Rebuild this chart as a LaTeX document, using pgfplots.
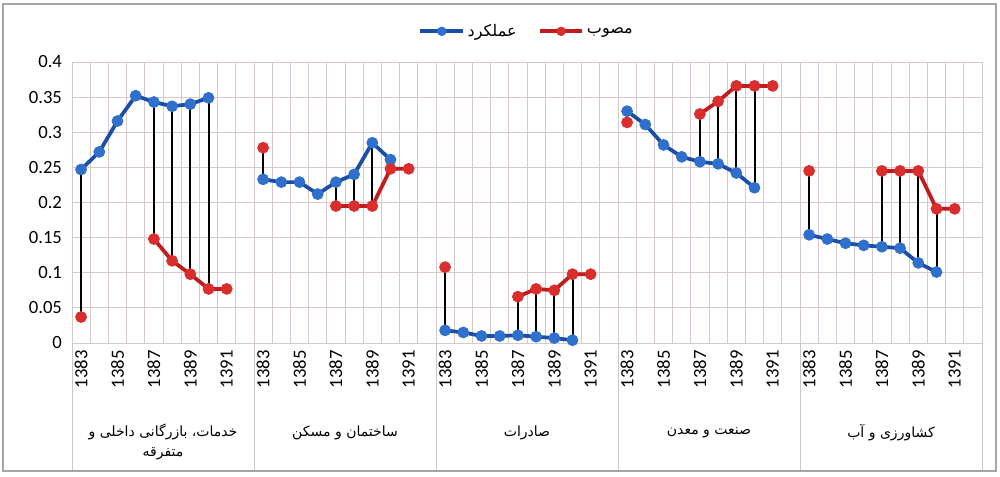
\documentclass[border=0pt]{standalone}
\usepackage{pgfplots}
\pgfplotsset{compat=1.18}
\usepackage{pgfplotstable}
\usepackage{fontspec}
\setmainfont{Carlito}
\newfontfamily\arabicfont[Script=Arabic]{DejaVu Sans}
\TeXXeTstate=1
\definecolor{gridc}{RGB}{215,200,202}
\definecolor{sepc}{RGB}{200,200,200}
\definecolor{blueline}{RGB}{28,78,165}
\definecolor{bluefill}{RGB}{48,112,205}
\definecolor{redline}{RGB}{192,28,28}
\definecolor{redfill}{RGB}{218,46,46}

\pgfplotstableread{
x y
0 0.247
1 0.272
2 0.316
3 0.352
4 0.343
5 0.337
6 0.340
7 0.349
8 nan
10 0.233
11 0.229
12 0.229
13 0.212
14 0.229
15 0.240
16 0.285
17 0.261
18 nan
20 0.018
21 0.015
22 0.010
23 0.010
24 0.011
25 0.009
26 0.007
27 0.004
28 nan
30 0.330
31 0.311
32 0.282
33 0.265
34 0.258
35 0.255
36 0.242
37 0.221
38 nan
40 0.154
41 0.148
42 0.142
43 0.139
44 0.137
45 0.135
46 0.114
47 0.101
}\actual

\pgfplotstableread{
x y
0 0.037
1 nan
4 0.148
5 0.117
6 0.098
7 0.077
8 0.077
9 nan
10 0.278
11 nan
14 0.195
15 0.195
16 0.195
17 0.248
18 0.248
19 nan
20 0.108
21 nan
24 0.066
25 0.077
26 0.075
27 0.098
28 0.098
29 nan
30 0.314
31 nan
34 0.326
35 0.344
36 0.366
37 0.366
38 0.366
39 nan
40 0.245
41 nan
44 0.245
45 0.245
46 0.245
47 0.191
48 0.191
}\approved

\pgfplotstableread{
x y
0 0.037
0 0.247
0 nan
4 0.148
4 0.343
4 nan
5 0.117
5 0.337
5 nan
6 0.098
6 0.340
6 nan
7 0.077
7 0.349
7 nan
10 0.233
10 0.278
10 nan
14 0.195
14 0.229
14 nan
15 0.195
15 0.240
15 nan
16 0.195
16 0.285
16 nan
17 0.248
17 0.261
17 nan
20 0.018
20 0.108
20 nan
24 0.011
24 0.066
24 nan
25 0.009
25 0.077
25 nan
26 0.007
26 0.075
26 nan
27 0.004
27 0.098
27 nan
30 0.314
30 0.330
30 nan
34 0.258
34 0.326
34 nan
35 0.255
35 0.344
35 nan
36 0.242
36 0.366
36 nan
37 0.221
37 0.366
37 nan
40 0.154
40 0.245
40 nan
44 0.137
44 0.245
44 nan
45 0.135
45 0.245
45 nan
46 0.114
46 0.245
46 nan
47 0.101
47 0.191
}\hilo

\begin{document}
\begin{tikzpicture}
\useasboundingbox (0,0) rectangle (750pt,357pt);
\fill[white] (0,0) rectangle (750pt,357pt);
\begin{axis}[
  at={(54pt,99.75pt)}, anchor=south west,
  scale only axis, width=682.5pt, height=210.75pt,
  xmin=-0.5, xmax=49.5, ymin=0, ymax=0.4,
  unbounded coords=jump,
  xtick={0,2,4,6,8,10,12,14,16,18,20,22,24,26,28,30,32,34,36,38,40,42,44,46,48},
  xticklabels={1383,1385,1387,1389,1391,1383,1385,1387,1389,1391,1383,1385,1387,1389,1391,1383,1385,1387,1389,1391,1383,1385,1387,1389,1391},
  minor xtick={-0.5,0.5,...,49.5},
  xminorgrids, ymajorgrids,
  ytick={0,0.05,0.1,0.15,0.2,0.25,0.3,0.35,0.4},
  yticklabels={0,0.05,0.1,0.15,0.2,0.25,0.3,0.35,0.4},
  /pgf/number format/assume math mode=true,
  major tick length=0pt, minor tick length=0pt,
  grid style={draw=gridc, line width=0.6pt},
  minor grid style={draw=gridc, line width=0.6pt},
  axis line style={draw=gridc, line width=0.6pt},
  xticklabel style={rotate=90, anchor=east, font=\fontsize{14}{16}\selectfont, yshift=0pt, xshift=-2pt},
  yticklabel style={font=\fontsize{14}{16}\selectfont, xshift=-4pt},
  legend columns=2,
  legend style={at={(0.5,1)}, anchor=center, yshift=23pt, draw=none, fill=none,
    font=\fontsize{12}{14}\selectfont\arabicfont,
    /tikz/every even column/.append style={column sep=14pt}},
  legend image code/.code={
    \draw[#1, mark size=3.2pt, mark repeat=2, mark phase=2] plot coordinates {(0pt,0pt) (16pt,0pt) (32pt,0pt)};
  },
]
\addplot[draw=blueline, line width=2.8pt, mark=*, mark size=4.1pt,
  mark options={fill=bluefill, draw=bluefill, line width=0.6pt}] table[x=x,y=y] {\actual};
\addlegendentry{\beginR عملکرد\endR}
\addplot[draw=redline, line width=2.8pt, mark=*, mark size=4.1pt,
  mark options={fill=redfill, draw=redfill, line width=0.6pt}] table[x=x,y=y] {\approved};
\addlegendentry{\beginR مصوب\endR}
\addplot[black, line width=1.5pt, forget plot] table[x=x,y=y] {\hilo};
\end{axis}
% group separators below the axis
\foreach \X in {54,190.5,327,463.5,600,736.5}{
  \draw[sepc, line width=0.6pt] (\X pt,99.75pt) -- (\X pt,3.75pt);
}
\begin{scope}[every node/.style={font=\fontsize{10.5}{12}\selectfont\arabicfont, inner sep=0pt}]
\node at (122.25pt,33pt) {\beginR خدمات، بازرگانی داخلی و\endR};
\node at (122.25pt,16.5pt) {\beginR متفرقه\endR};
\node at (258.75pt,32.25pt) {\beginR ساختمان و مسکن\endR};
\node at (395.25pt,32.25pt) {\beginR صادرات\endR};
\node at (531.75pt,32.25pt) {\beginR صنعت و معدن\endR};
\node at (668.25pt,32.25pt) {\beginR کشاورزی و آب\endR};
\end{scope}
\draw[gray!70, line width=1.6pt] (2.25pt,3.75pt) rectangle (747pt,354pt);
\end{tikzpicture}
\end{document}
